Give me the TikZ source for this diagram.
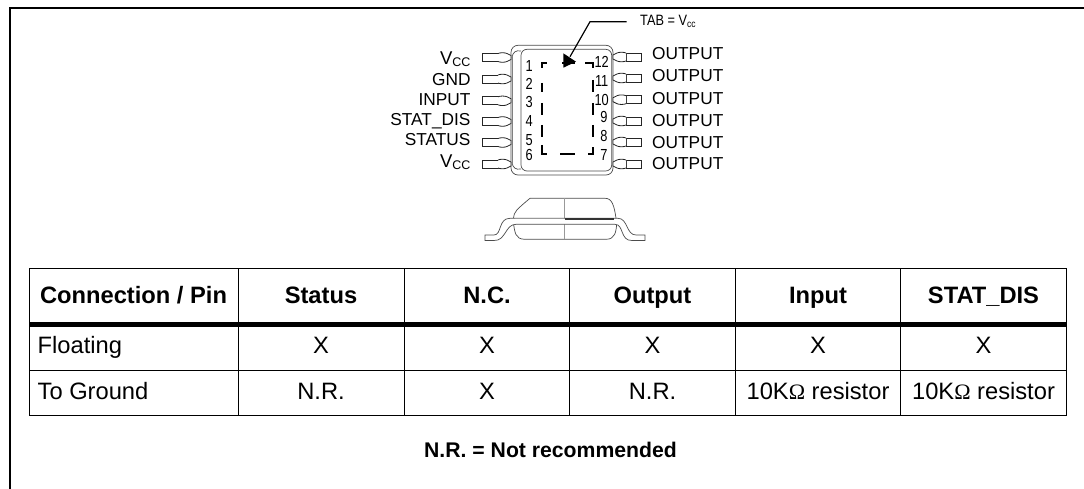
\documentclass[tikz,border=0pt]{standalone}
\usepackage{fontspec}
\setmainfont{Liberation Sans}
\usetikzlibrary{calc}
\tikzset{
  x=1pt,y=-1pt,
  grid/.style={line width=0.9pt,black},
  thick rule/.style={line width=4.6pt,black},
  frame/.style={line width=1.9pt,black},
  cellhead/.style={font=\fontsize{23.7}{26}\selectfont\bfseries,inner sep=0pt,anchor=base},
  cell/.style={font=\fontsize{23.7}{26}\selectfont,inner sep=0pt,anchor=base},
  pinlabel/.style={font=\fontsize{17.3}{19}\selectfont,inner sep=0pt},
  pinnum/.style={font=\fontsize{16}{17}\selectfont,inner sep=0pt,anchor=base},
  outline/.style={line width=0.7pt,black!70},
  lead/.style={line width=0.8pt,black!85,fill=white},
  dashseg/.style={line width=1.6pt,black},
}
\newcommand{\ohm}{{\fontspec{Liberation Serif}\fontsize{22}{24}\selectfont\char"03A9}}
\newcommand{\vcc}{{\fontsize{18.5}{19}\selectfont V}\raisebox{-1.5pt}{\fontsize{12.5}{13}\selectfont CC}}
\begin{document}
\begin{tikzpicture}
\useasboundingbox (0,0) rectangle (1084,489);
% frame
\draw[frame] (10,489) -- (10,7.6) -- (1084,7.6);
% table
\draw[grid] (29.5,268.5) rectangle (1066.7,415);
\draw[grid] (29.5,370.5) -- (1066.7,370.5);
\foreach \xx in {238.5,404.3,569.3,735.3,900.3} \draw[grid] (\xx,268.5) -- (\xx,415);
\draw[thick rule] (29.5,324.4) -- (1066.7,324.4);
% headers
\node[cellhead] (h1) at (133.5,303.3) {Connection / Pin};
\node[cellhead] (h2) at (321,303.3) {Status};
\node[cellhead] (h3) at (487,303.3) {N.C.};
\node[cellhead] (h4) at (652.5,303.3) {Output};
\node[cellhead] (h5) at (818,303.3) {Input};
\node[cellhead] (h6) at (983.5,303.3) {STAT\_DIS};
\node[cell,anchor=base west] (f1) at (37.5,353.3) {Floating};
\node[cell,anchor=base west] (g1) at (37.5,399.3) {To Ground};
\foreach \xx/\nm in {321/f2,487/f3,652.5/f4,818/f5,983.5/f6} \node[cell] (\nm) at (\xx,353.3) {X};
\node[cell] (g2) at (321,399.3) {N.R.};
\node[cell] (g3) at (487,399.3) {X};
\node[cell] (g4) at (652.5,399.3) {N.R.};
\node[cell] (g5) at (818,399.3) {10K\ohm{} resistor};
\node[cell] (g6) at (983.5,399.3) {10K\ohm{} resistor};
\node[font=\fontsize{21.2}{23}\selectfont\bfseries,inner sep=0pt,anchor=base] (note) at (550.5,457.5) {N.R. = Not recommended};
% package body (top view)
\draw[outline,rounded corners=7pt] (511,45.3) rectangle (613,175);
\draw[outline,rounded corners=6pt] (521,49.3) rectangle (611.7,171);
\draw[outline] (521,51) .. controls (516,50) and (512.5,52) .. (512,58);
\draw[outline] (521,169) .. controls (516,170) and (512.5,168) .. (512,162);
\draw[line width=1pt,black!50] (512,56) -- (512,164);
% pins
\foreach \yy in {57.5,79,100.8,121.5,142.5,164}{
  \draw[lead] (482.5,\yy-4) rectangle (498,\yy+4);
  \draw[lead] (498,\yy-4) .. controls (500,\yy-5) and (505,\yy-5) .. (507,\yy-4) -- (511,\yy-2) -- (511,\yy+2) -- (507,\yy+4) .. controls (505,\yy+5) and (500,\yy+5) .. (498,\yy+4);
}
\foreach \yy in {57,78,99.7,121,142,164}{
  \draw[lead] (626,\yy-4) rectangle (641,\yy+4);
  \draw[lead] (626,\yy-4) .. controls (624,\yy-5) and (619,\yy-5) .. (617,\yy-4) -- (613,\yy-2) -- (613,\yy+2) -- (617,\yy+4) .. controls (619,\yy+5) and (624,\yy+5) .. (626,\yy+4);
}
% left labels
\node[pinlabel,anchor=base east] (l1) at (470.7,65) {\vcc};
\node[pinlabel,anchor=base east] (l2) at (470.7,86) {GND};
\node[pinlabel,anchor=base east] (l3) at (470.7,106) {INPUT};
\node[pinlabel,anchor=base east] (l4) at (470.7,126) {STAT\_DIS};
\node[pinlabel,anchor=base east] (l5) at (470.7,146) {STATUS};
\node[pinlabel,anchor=base east] (l6) at (470.7,168) {\vcc};
% right labels
\foreach \yy/\nm in {60/r1,81.7/r2,105/r3,126.7/r4,148.3/r5,169.3/r6}
  \node[pinlabel,anchor=base west] (\nm) at (652,\yy) {OUTPUT};
% pin numbers
\foreach \tx/\yy in {1/71.7,2/90,3/108,4/126.7,5/146,6/161}
  \node[pinnum] (n\tx) at (529.3,\yy) {\scalebox{0.8}[1]{\tx}};
\node[pinnum] (n12) at (601.7,67.7) {\scalebox{0.8}[1]{12}};
\node[pinnum] (n11) at (601.7,86.7) {\scalebox{0.8}[1]{11}};
\node[pinnum] (n10) at (601.7,106) {\scalebox{0.8}[1]{10}};
\node[pinnum] (n9) at (604,122.7) {\scalebox{0.8}[1]{9}};
\node[pinnum] (n8) at (604,141.7) {\scalebox{0.8}[1]{8}};
\node[pinnum] (n7) at (604,161) {\scalebox{0.8}[1]{7}};
% dashed tab outline
\draw[dashseg] (541.7,68) -- (541.7,63) -- (547,63);
\draw[dashseg] (562,63) -- (575,63);
\draw[dashseg] (585,63) -- (592.7,63) -- (592.7,68);
\draw[dashseg] (541.7,83) -- (541.7,92);
\draw[dashseg] (592.7,80) -- (592.7,92);
\foreach \a/\b in {103/115,125/137}{
  \draw[dashseg] (541.7,\a) -- (541.7,\b);
  \draw[dashseg] (592.7,\a) -- (592.7,\b);
}
\draw[dashseg] (541.7,145) -- (541.7,154) -- (546.7,154);
\draw[dashseg] (560,154) -- (575,154);
\draw[dashseg] (588,154) -- (592.7,154) -- (592.7,147);
% tab callout
\coordinate (tabend) at (626.7,21.7);
\coordinate (tabbend) at (590,21.7);
\coordinate (tabtip) at (570,56.7);
\draw[line width=1.2pt,black] (tabend) -- (tabbend) -- (tabtip);
\fill[black] (563.3,67.7) -- (563.3,53.3) -- (576,61.7) -- cycle;
\node[inner sep=0pt,anchor=base west,font=\fontsize{15}{16}\selectfont] (tab) at (640,26) {\scalebox{0.85}[1]{TAB = V\raisebox{-1.5pt}{\fontsize{10}{11}\selectfont cc}}};
% side view
\draw[outline] (513.5,218) .. controls (514,212) and (516,210) .. (530,198.3) -- (605,198.3) .. controls (612,198.3) and (614,205) .. (616,218);
\draw[outline] (513.5,224) .. controls (515,232) and (515,239.3) .. (525,239.3) -- (606,239.3) .. controls (615,239.3) and (616,232) .. (616.7,224);
\draw[line width=0.4pt,black!40] (564,198.3) -- (564,218);
\draw[line width=0.4pt,black!40] (564,224) -- (564,239.3);
\draw[outline,fill=white] (485,235) -- (494,235) .. controls (502,235) and (498,218.3) .. (510,218.3) -- (618,218.3) .. controls (628,218.3) and (626,235) .. (636,235) -- (645,235) -- (645,240.5) -- (632,240.5) .. controls (620,241) and (624,224.3) .. (615,224.3) -- (516,224.3) .. controls (505,224.3) and (506,241) .. (494,240.5) -- (485,240.5) -- cycle;
\draw[line width=1.6pt,black!80] (565,218.8) -- (614,218.8);
\draw[line width=0.8pt,black!40] (515,218.8) -- (564,218.8);
\end{tikzpicture}
\end{document}
